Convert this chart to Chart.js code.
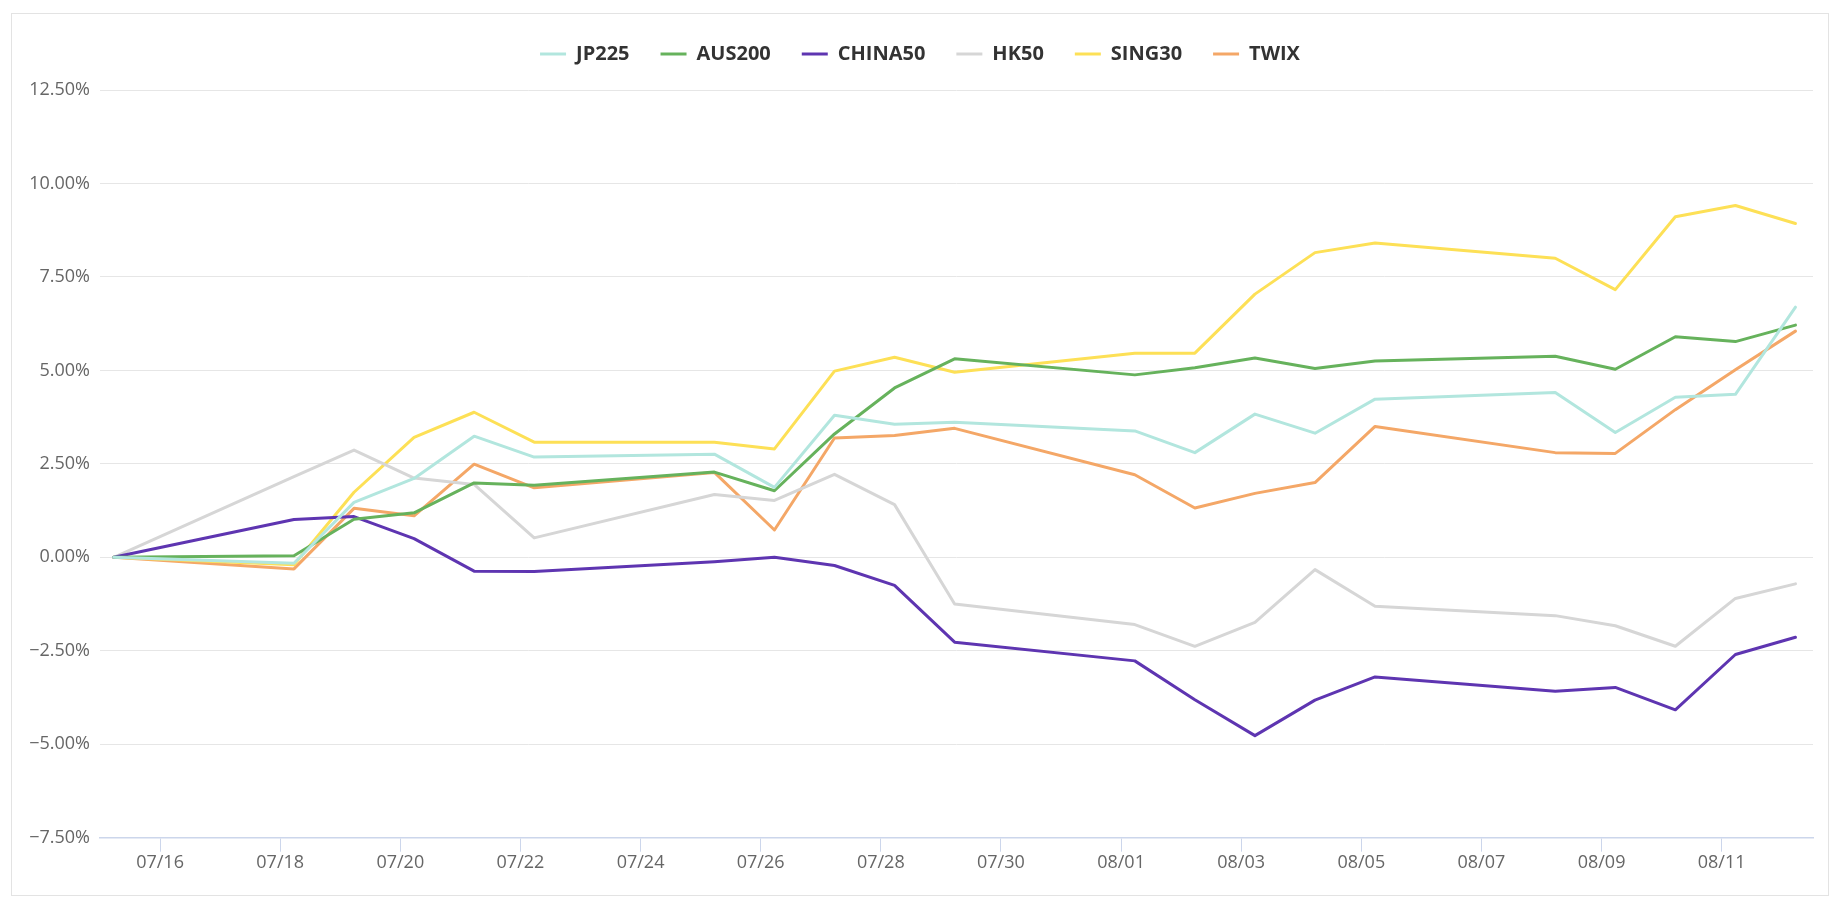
<!DOCTYPE html>
<html>
<head>
<meta charset="utf-8">
<script src="https://cdn.jsdelivr.net/npm/chart.js@4/dist/chart.umd.min.js"></script>
<style>
  html, body { margin: 0; padding: 0; background: #ffffff; }
  #wrap { position: absolute; left: 11px; top: 13px; width: 1816px; height: 881px; border: 1px solid #e3e3e3; background: #ffffff; }
  #wrap canvas { display: block; }
</style>
</head>
<body>
<div id="wrap"><canvas id="chart"></canvas></div>
<script>
// ---- data ----
const dates = [
  '2022-07-15T05:30', '2022-07-18T05:30', '2022-07-19T05:30', '2022-07-20T05:30', '2022-07-21T05:30',
  '2022-07-22T05:30', '2022-07-25T05:30', '2022-07-26T05:30', '2022-07-27T05:30', '2022-07-28T05:30',
  '2022-07-29T05:30', '2022-08-01T05:30', '2022-08-02T05:30', '2022-08-03T05:30', '2022-08-04T05:30',
  '2022-08-05T05:30', '2022-08-08T05:30', '2022-08-09T05:30', '2022-08-10T05:30', '2022-08-11T05:30',
  '2022-08-12T05:30'
];
const seriesNames = ['JP225', 'AUS200', 'CHINA50', 'HK50', 'SING30', 'TWIX'];
const jp225   = [0, -0.16, 1.47, 2.11, 3.24, 2.68, 2.76, 1.87, 3.80, 3.56, 3.61, 3.38, 2.80, 3.83, 3.32, 4.23, 4.41, 3.34, 4.28, 4.36, 6.69];
const aus200  = [0, 0.04, 1.02, 1.19, 1.99, 1.93, 2.28, 1.78, 3.30, 4.53, 5.31, 4.88, 5.07, 5.33, 5.05, 5.25, 5.38, 5.03, 5.90, 5.77, 6.21];
const china50 = [0, 1.01, 1.09, 0.50, -0.37, -0.38, -0.12, 0.00, -0.22, -0.75, -2.27, -2.77, -3.81, -4.77, -3.82, -3.20, -3.58, -3.48, -4.08, -2.60, -2.14];
const hk50    = [0, 2.16, 2.87, 2.12, 1.95, 0.52, 1.68, 1.52, 2.22, 1.41, -1.25, -1.80, -2.38, -1.74, -0.33, -1.31, -1.56, -1.83, -2.38, -1.10, -0.71];
const sing30  = [0, -0.20, 1.74, 3.21, 3.88, 3.08, 3.08, 2.90, 4.98, 5.35, 4.95, 5.46, 5.46, 7.04, 8.15, 8.41, 8.00, 7.16, 9.11, 9.41, 8.93];
const twix    = [0, -0.31, 1.31, 1.11, 2.49, 1.86, 2.27, 0.73, 3.19, 3.26, 3.45, 2.21, 1.32, 1.71, 2.00, 3.50, 2.80, 2.78, 3.95, 5.02, 6.05];
const tickDates = [
  '2022-07-16', '2022-07-18', '2022-07-20', '2022-07-22', '2022-07-24', '2022-07-26', '2022-07-28',
  '2022-07-30', '2022-08-01', '2022-08-03', '2022-08-05', '2022-08-07', '2022-08-09', '2022-08-11'
];
const xRange = ['2022-07-15T00:00', '2022-08-12T12:30'];
const yTicks = { min: -7.5, max: 12.5, step: 2.5 };
const colors = ['#b2e6de', '#66b25c', '#5e35b1', '#d6d6d6', '#fde056', '#f4a767'];

// ---- helpers ----
const toMs = s => Date.parse(s + (s.length > 10 ? ':00Z' : 'T00:00:00Z'));
const pad2 = n => String(n).padStart(2, '0');
const fmtDay = ms => { const d = new Date(ms); return pad2(d.getUTCMonth() + 1) + '/' + pad2(d.getUTCDate()); };
const seriesValues = [jp225, aus200, china50, hk50, sing30, twix];

const datasets = seriesNames.map((name, i) => ({
  label: name,
  data: dates.map((d, j) => ({ x: toMs(d), y: seriesValues[i][j] })),
  borderColor: colors[i],
  backgroundColor: colors[i],
  borderWidth: 3,
  pointRadius: 0,
  pointHoverRadius: 0,
  tension: 0,
  fill: false,
  borderJoinStyle: 'round',
  borderCapStyle: 'round'
}));

const legendSpacing = {
  id: 'legendSpacing',
  beforeInit(chart) {
    const fit = chart.legend.fit;
    chart.legend.fit = function () { fit.call(this); this.height += 16; };
  }
};

Chart.defaults.font.family = "'Open Sans', sans-serif";

new Chart(document.getElementById('chart'), {
  type: 'line',
  data: { datasets },
  plugins: [legendSpacing],
  options: {
    responsive: true,
    maintainAspectRatio: false,
    animation: false,
    devicePixelRatio: 1,
    layout: { padding: { top: -1, left: 15, right: 15, bottom: 0 } },
    plugins: {
      tooltip: { enabled: false },
      legend: {
        display: true,
        position: 'top',
        align: 'center',
        labels: {
          color: '#333333',
          font: { family: "'Open Sans', sans-serif", size: 20, weight: 'bold' },
          boxWidth: 26,
          boxHeight: 3,
          padding: 31,
          generateLabels(chart) {
            return Chart.defaults.plugins.legend.labels.generateLabels(chart).map(l => ({
              ...l, fillStyle: l.strokeStyle, lineWidth: 0
            }));
          }
        }
      }
    },
    scales: {
      x: {
        type: 'linear',
        min: toMs(xRange[0]),
        max: toMs(xRange[1]),
        afterBuildTicks(scale) { scale.ticks = tickDates.map(d => ({ value: toMs(d) })); },
        afterFit(scale) { scale.height = 57.3; },
        ticks: {
          color: '#666666',
          font: { size: 18 },
          padding: 0,
          maxRotation: 0,
          autoSkip: false,
          callback: v => fmtDay(v)
        },
        grid: { drawOnChartArea: false, drawTicks: true, tickLength: 14, color: '#ccd6eb', lineWidth: 1 },
        border: { display: true, color: '#ccd6eb', width: 1.5 }
      },
      y: {
        min: yTicks.min,
        max: yTicks.max,
        afterFit(scale) { scale.width = 73; },
        ticks: {
          stepSize: yTicks.step,
          color: '#666666',
          font: { size: 18 },
          padding: 10,
          callback: v => (v < 0 ? '\u2212' : '') + Math.abs(v).toFixed(2) + '%'
        },
        grid: { color: '#e6e6e6', lineWidth: 1, drawTicks: false },
        border: { display: false }
      }
    }
  }
});
</script>
</body>
</html>
